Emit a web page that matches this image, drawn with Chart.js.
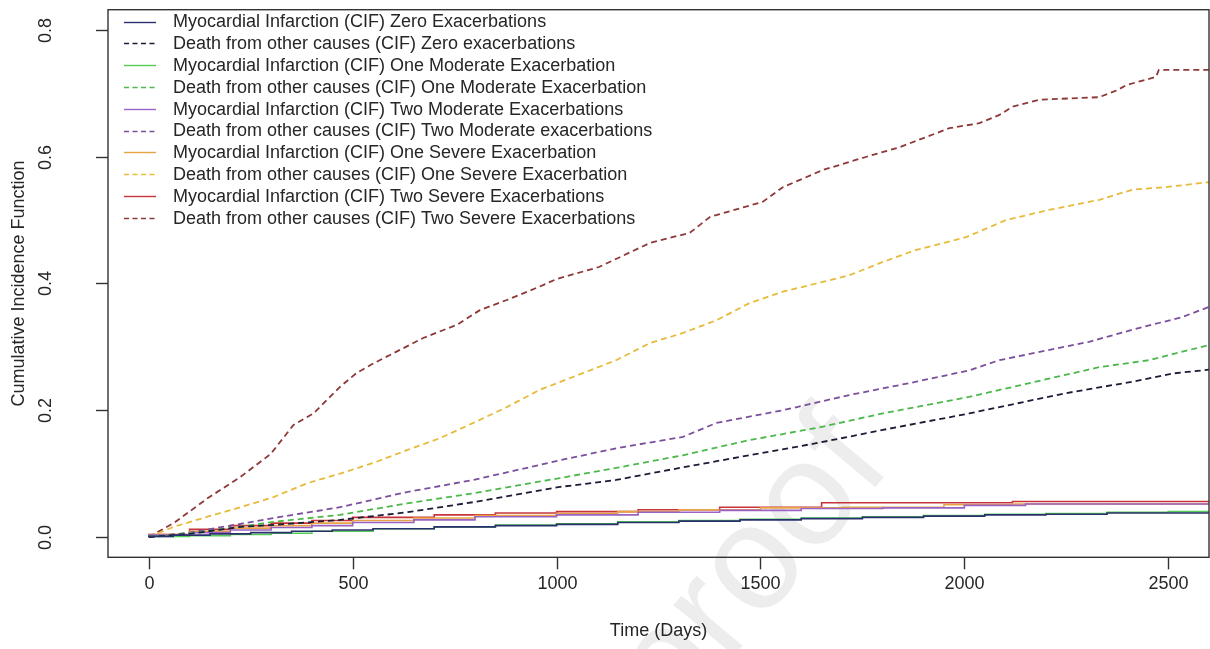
<!DOCTYPE html>
<html><head><meta charset="utf-8">
<script src="https://cdn.jsdelivr.net/npm/chart.js@4/dist/chart.umd.min.js"></script>
<style>html,body{margin:0;padding:0;background:#fff;overflow:hidden}#wrap{width:1210px;height:649px;position:relative}</style>
</head><body><div id="wrap"><canvas id="c" width="1210" height="649"></canvas></div>
<script>
// ---- axis ticks and labels ----
const xTicks = [0, 500, 1000, 1500, 2000, 2500];
const xTickLabels = ['0', '500', '1000', '1500', '2000', '2500'];
const yTicks = [0, 0.2, 0.4, 0.6, 0.8];
const yTickLabels = ['0.0', '0.2', '0.4', '0.6', '0.8'];
const xTitle = 'Time (Days)';
const yTitle = 'Cumulative Incidence Function';
const watermarkText = 'proof';

// ---- series labels ----
const seriesLabels = [
  'Myocardial Infarction (CIF) Zero Exacerbations',
  'Death from other causes (CIF) Zero exacerbations',
  'Myocardial Infarction (CIF) One Moderate Exacerbation',
  'Death from other causes (CIF) One Moderate Exacerbation',
  'Myocardial Infarction (CIF) Two Moderate Exacerbations',
  'Death from other causes (CIF) Two Moderate exacerbations',
  'Myocardial Infarction (CIF) One Severe Exacerbation',
  'Death from other causes (CIF) One Severe Exacerbation',
  'Myocardial Infarction (CIF) Two Severe Exacerbations',
  'Death from other causes (CIF) Two Severe Exacerbations'
];

// ---- series values (time in days, cumulative incidence) ----
const tMI0 = [0, 60, 150, 250, 350, 450, 550, 700, 850, 1000, 1150, 1300, 1450, 1600, 1750, 1900, 2050, 2200, 2350, 2470, 2600];
const vMI0 = [0, 0.001, 0.003, 0.005, 0.007, 0.009, 0.011, 0.013, 0.016, 0.018, 0.020, 0.023, 0.025, 0.027, 0.029, 0.031, 0.033, 0.035, 0.036, 0.038, 0.038];

const tD0 = [0, 100, 225, 350, 469, 633, 796, 1008, 1146, 1310, 1473, 1637, 1800, 2012, 2086, 2249, 2412, 2510, 2600];
const vD0 = [0, 0.005, 0.016, 0.021, 0.027, 0.039, 0.055, 0.079, 0.090, 0.110, 0.129, 0.148, 0.169, 0.195, 0.205, 0.227, 0.245, 0.258, 0.264];

const tMI1 = [0, 100, 200, 300, 400, 550, 700, 850, 1000, 1150, 1300, 1450, 1600, 1750, 1900, 2050, 2200, 2350, 2500, 2600];
const vMI1 = [0, 0.001, 0.002, 0.004, 0.006, 0.009, 0.013, 0.016, 0.019, 0.021, 0.024, 0.026, 0.028, 0.030, 0.032, 0.034, 0.036, 0.037, 0.039, 0.040];

const tD1 = [0, 100, 200, 306, 469, 633, 796, 1008, 1146, 1310, 1473, 1637, 1800, 2012, 2086, 2331, 2453, 2600];
const vD1 = [0, 0.006, 0.014, 0.024, 0.035, 0.053, 0.069, 0.093, 0.109, 0.129, 0.153, 0.172, 0.195, 0.221, 0.232, 0.268, 0.279, 0.303];

const tMI2 = [0, 100, 200, 300, 400, 500, 650, 800, 1000, 1200, 1400, 1600, 1800, 2000, 2150, 2270, 2600];
const vMI2 = [0, 0.003, 0.007, 0.011, 0.015, 0.018, 0.023, 0.027, 0.032, 0.035, 0.039, 0.042, 0.045, 0.046, 0.050, 0.052, 0.052];

const tD2 = [0, 100, 200, 306, 469, 633, 796, 1008, 1146, 1310, 1392, 1555, 1718, 1882, 2012, 2086, 2306, 2412, 2534, 2600];
const vD2 = [0, 0.007, 0.018, 0.030, 0.047, 0.071, 0.090, 0.121, 0.140, 0.158, 0.180, 0.200, 0.224, 0.245, 0.263, 0.279, 0.308, 0.327, 0.347, 0.363];

const tMS1 = [0, 100, 200, 300, 400, 500, 650, 800, 1000, 1150, 1300, 1500, 1700, 1950, 2120, 2600];
const vMS1 = [0, 0.004, 0.009, 0.014, 0.018, 0.022, 0.026, 0.030, 0.034, 0.037, 0.040, 0.043, 0.046, 0.047, 0.051, 0.052];

const tDS1 = [0, 61, 144, 225, 306, 389, 469, 551, 633, 714, 796, 878, 958, 1066, 1146, 1229, 1310, 1392, 1473, 1555, 1637, 1718, 1800, 1882, 2004, 2102, 2207, 2331, 2412, 2494, 2600];
const vDS1 = [0, 0.016, 0.032, 0.047, 0.063, 0.085, 0.100, 0.117, 0.137, 0.156, 0.180, 0.205, 0.232, 0.259, 0.279, 0.306, 0.322, 0.342, 0.369, 0.387, 0.400, 0.413, 0.434, 0.453, 0.473, 0.500, 0.516, 0.532, 0.548, 0.552, 0.560];

const tMS2 = [0, 100, 200, 300, 400, 500, 700, 850, 1000, 1200, 1400, 1650, 2118, 2470, 2600];
const vMS2 = [0, 0.004, 0.012, 0.018, 0.022, 0.026, 0.031, 0.035, 0.038, 0.040, 0.043, 0.047, 0.054, 0.056, 0.056];

const tDS2 = [0, 61, 144, 225, 299, 355, 404, 469, 510, 551, 600, 673, 756, 812, 878, 958, 1000, 1104, 1229, 1327, 1376, 1506, 1555, 1653, 1760, 1841, 1963, 2037, 2086, 2118, 2184, 2331, 2375, 2397, 2470, 2477, 2600];
const vDS2 = [0, 0.022, 0.061, 0.095, 0.131, 0.177, 0.195, 0.237, 0.259, 0.274, 0.290, 0.314, 0.335, 0.358, 0.374, 0.395, 0.407, 0.426, 0.464, 0.480, 0.505, 0.529, 0.552, 0.579, 0.600, 0.615, 0.645, 0.653, 0.666, 0.679, 0.690, 0.694, 0.705, 0.713, 0.726, 0.737, 0.737];

// ---- build datasets ----
const pts = (t, v) => t.map((d, i) => ({x: d, y: v[i]}));
const seriesData = [pts(tMI0, vMI0), pts(tD0, vD0), pts(tMI1, vMI1), pts(tD1, vD1), pts(tMI2, vMI2), pts(tD2, vD2), pts(tMS1, vMS1), pts(tDS1, vDS1), pts(tMS2, vMS2), pts(tDS2, vDS2)];
const colors = ['#2a2f6e', '#1c1c38', '#55cc55', '#4cb84c', '#9a62c4', '#7b4f9c', '#e8a444', '#e6bb3c', '#c8343a', '#8e3838'];
const dashed = [false, true, false, true, false, true, false, true, false, true];

const datasets = seriesData.map((d, i) => ({
  label: seriesLabels[i],
  data: d,
  borderColor: colors[i],
  backgroundColor: colors[i],
  borderWidth: dashed[i] ? 1.8 : 1.6,
  borderDash: dashed[i] ? [6, 4] : [],
  pointRadius: 0,
  showLine: true,
  fill: false,
  tension: 0,
  stepped: dashed[i] ? false : 'after'
}));

const FONT = '"Liberation Sans", Arial, sans-serif';

const rStyle = {
  id: 'rStyle',
  beforeDatasetsDraw(chart) {
    const ctx = chart.ctx;
    ctx.save();
    ctx.translate(752, 570);
    ctx.rotate(-50 * Math.PI / 180);
    ctx.font = '150px ' + FONT;
    ctx.fillStyle = 'rgba(0,0,0,0.07)';
    ctx.textAlign = 'center';
    ctx.textBaseline = 'middle';
    ctx.fillText(watermarkText, 0, 0);
    ctx.restore();
  },
  afterDraw(chart) {
    const {ctx, chartArea: a, scales: {x, y}} = chart;
    ctx.save();
    ctx.strokeStyle = '#333';
    ctx.lineWidth = 1.4;
    ctx.strokeRect(a.left, a.top, a.right - a.left, a.bottom - a.top);
    ctx.font = '18px ' + FONT;
    ctx.fillStyle = '#262626';
    // x axis
    ctx.textAlign = 'center';
    ctx.textBaseline = 'middle';
    xTicks.forEach((v, i) => {
      const px = Math.round(x.getPixelForValue(v)) + 0.5;
      ctx.beginPath(); ctx.moveTo(px, a.bottom); ctx.lineTo(px, a.bottom + 12); ctx.stroke();
      ctx.fillText(xTickLabels[i], px, 584);
    });
    // y axis
    yTicks.forEach((v, i) => {
      const py = Math.round(y.getPixelForValue(v)) + 0.5;
      ctx.beginPath(); ctx.moveTo(a.left, py); ctx.lineTo(a.left - 12, py); ctx.stroke();
      ctx.save(); ctx.translate(46, py); ctx.rotate(-Math.PI / 2);
      ctx.fillText(yTickLabels[i], 0, 0); ctx.restore();
    });
    // titles
    ctx.fillText(xTitle, (a.left + a.right) / 2, 631);
    ctx.save(); ctx.translate(19, (a.top + a.bottom) / 2); ctx.rotate(-Math.PI / 2);
    ctx.fillText(yTitle, 0, 0); ctx.restore();
    // legend
    ctx.textAlign = 'left';
    chart.data.datasets.forEach((ds, i) => {
      const ly = 21.5 + 21.8 * i;
      ctx.save();
      ctx.strokeStyle = ds.borderColor;
      ctx.lineWidth = 1.4;
      ctx.setLineDash(ds.borderDash.length ? [5, 3.5] : []);
      ctx.beginPath(); ctx.moveTo(124, Math.round(ly) + 0.5); ctx.lineTo(156, Math.round(ly) + 0.5); ctx.stroke();
      ctx.restore();
      ctx.fillText(ds.label, 173, ly + 1);
    });
    ctx.restore();
  }
};

new Chart(document.getElementById('c'), {
  type: 'scatter',
  data: {datasets},
  options: {
    responsive: false,
    animation: false,
    devicePixelRatio: 1,
    layout: {padding: {left: 108, top: 9.7, right: 1, bottom: 91.7}},
    plugins: {legend: {display: false}, tooltip: {enabled: false}},
    scales: {
      x: {type: 'linear', min: -100, max: 2600, display: false},
      y: {type: 'linear', min: -0.032, max: 0.832, display: false}
    }
  },
  plugins: [rStyle]
});
</script>
</body></html>
